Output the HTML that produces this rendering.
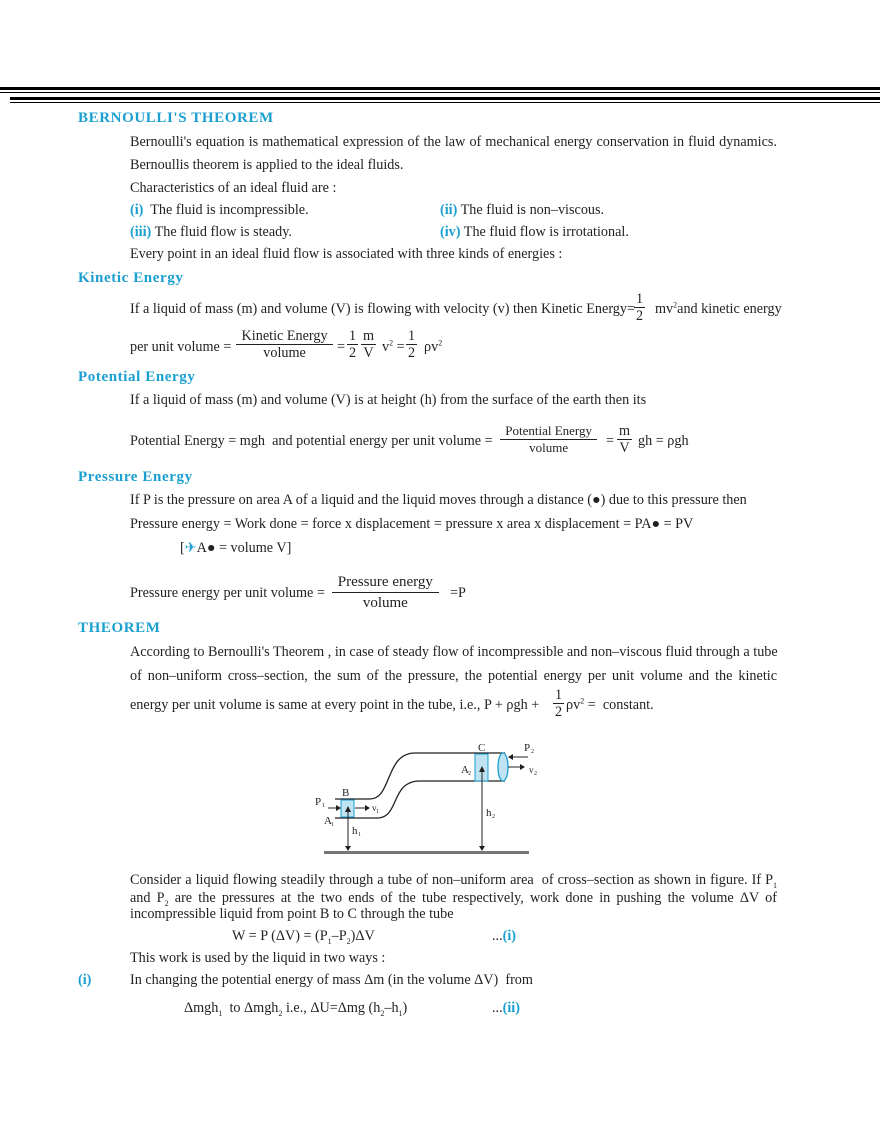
<!DOCTYPE html>
<html><head><meta charset="utf-8"><style>
body{margin:0;width:880px;height:1139px;background:#fff;position:relative;overflow:hidden;font-family:"Liberation Serif",serif;font-size:14.2px;color:#231f20}
.t{position:absolute;white-space:nowrap;line-height:18px}
.j{position:absolute;width:647px;left:130px;line-height:18px;text-align:justify;text-align-last:justify;white-space:nowrap}
.h{position:absolute;left:78px;color:#1a9fd0;font-weight:bold;font-size:15px;letter-spacing:0.6px;line-height:18px}
.b{color:#1a9fd0;font-weight:bold}
.fr{position:absolute;text-align:center;line-height:16px}
.fr .n{border-bottom:1px solid #231f20;padding:0 2px}
sub,sup{font-size:8px;line-height:0}
.bar{position:absolute;background:#000}
</style></head><body>
<div class="bar" style="left:0;top:87px;width:880px;height:3px"></div>
<div class="bar" style="left:0;top:92px;width:880px;height:1px"></div>
<div class="bar" style="left:10px;top:97px;width:870px;height:3px"></div>
<div class="bar" style="left:10px;top:102px;width:870px;height:1px"></div>

<div class="h" style="top:109px">BERNOULLI'S THEOREM</div>
<div class="j" style="top:133px">Bernoulli's equation is mathematical expression of the law of mechanical energy conservation in fluid dynamics.</div>
<div class="t" style="left:130px;top:156px">Bernoullis theorem is applied to the ideal fluids.</div>
<div class="t" style="left:130px;top:179px">Characteristics of an ideal fluid are :</div>
<div class="t" style="left:130px;top:201px"><span class="b">(i)</span>&nbsp; The fluid is incompressible.</div>
<div class="t" style="left:440px;top:201px"><span class="b">(ii)</span> The fluid is non–viscous.</div>
<div class="t" style="left:130px;top:223px"><span class="b">(iii)</span> The fluid flow is steady.</div>
<div class="t" style="left:440px;top:223px"><span class="b">(iv)</span> The fluid flow is irrotational.</div>
<div class="t" style="left:130px;top:245px">Every point in an ideal fluid flow is associated with three kinds of energies :</div>

<div class="h" style="top:269px">Kinetic Energy</div>
<div class="t" style="left:130px;top:300px">If a liquid of mass (m) and volume (V) is flowing with velocity (v) then Kinetic Energy=</div>
<div class="fr" style="left:634px;top:291px"><div class="n">1</div><div>2</div></div>
<div class="t" style="left:655px;top:300px">mv<sup>2</sup>and kinetic energy</div>
<div class="t" style="left:130px;top:338px">per unit volume =</div>
<div class="fr" style="left:236px;top:328px"><div class="n">&nbsp;Kinetic Energy&nbsp;</div><div>volume</div></div>
<div class="t" style="left:337px;top:338px">=</div>
<div class="fr" style="left:347px;top:328px"><div class="n">1</div><div>2</div></div>
<div class="fr" style="left:361px;top:328px"><div class="n">m</div><div>V</div></div>
<div class="t" style="left:382px;top:338px">v<sup>2</sup> =</div>
<div class="fr" style="left:406px;top:328px"><div class="n">1</div><div>2</div></div>
<div class="t" style="left:424px;top:338px">ρv<sup>2</sup></div>

<div class="h" style="top:368px">Potential Energy</div>
<div class="t" style="left:130px;top:391px">If a liquid of mass (m) and volume (V) is at height (h) from the surface of the earth then its</div>
<div class="t" style="left:130px;top:432px">Potential Energy = mgh&nbsp; and potential energy per unit volume =</div>
<div class="fr" style="left:500px;top:423px;font-size:13px"><div class="n">&nbsp;Potential Energy&nbsp;</div><div>volume</div></div>
<div class="t" style="left:606px;top:432px">=</div>
<div class="fr" style="left:617px;top:423px"><div class="n">m</div><div>V</div></div>
<div class="t" style="left:638px;top:432px">gh = ρgh</div>

<div class="h" style="top:468px">Pressure Energy</div>
<div class="t" style="left:130px;top:491px">If P is the pressure on area A of a liquid and the liquid moves through a distance (●) due to this pressure then</div>
<div class="t" style="left:130px;top:515px">Pressure energy = Work done = force x displacement = pressure x area x displacement = PA● = PV</div>
<div class="t" style="left:180px;top:539px">[<span style="color:#1a9fd0">✈</span>A● = volume V]</div>
<div class="t" style="left:130px;top:584px">Pressure energy per unit volume =</div>
<div class="fr" style="left:332px;top:572px;font-size:15px;line-height:20px"><div class="n">&nbsp;Pressure energy&nbsp;</div><div>volume</div></div>
<div class="t" style="left:450px;top:584px">=P</div>

<div class="h" style="top:619px">THEOREM</div>
<div class="j" style="top:643px">According to Bernoulli's Theorem , in case of steady flow of incompressible and non–viscous fluid through a tube</div>
<div class="j" style="top:667px">of non–uniform cross–section, the sum of the pressure, the potential energy per unit volume and the kinetic</div>
<div class="t" style="left:130px;top:696px">energy per unit volume is same at every point in the tube, i.e., P + ρgh +</div>
<div class="fr" style="left:553px;top:687px"><div class="n">1</div><div>2</div></div>
<div class="t" style="left:566px;top:696px">ρv<sup>2</sup> = &nbsp;constant.</div>

<svg style="position:absolute;left:0;top:0" width="880" height="1139">
<g fill="none" stroke="#231f20" stroke-width="1.3">
<path d="M335 799 H370 C392 799 385 753 415 753 H505"/>
<path d="M335 818 H377 C400 818 390 781 420 781 H505"/>
<ellipse cx="503" cy="767" rx="5" ry="14" fill="#bfe3f3" stroke="#1a9fd0"/>
</g>
<rect x="341" y="800" width="13" height="17" fill="#bfe3f3" stroke="#1a9fd0"/>
<rect x="475" y="754" width="13" height="27" fill="#bfe3f3" stroke="#1a9fd0"/>
<rect x="324" y="851" width="205" height="3" fill="#777"/>
<g stroke="#231f20" stroke-width="1">
<line x1="348" y1="808" x2="348" y2="850"/><line x1="482" y1="768" x2="482" y2="850"/>
<line x1="328" y1="808" x2="339" y2="808"/><line x1="355" y1="808" x2="367" y2="808"/>
<line x1="510" y1="757" x2="528" y2="757"/><line x1="508" y1="767" x2="522" y2="767"/>
</g>
<g fill="#231f20">
<path d="M345 812 L348 806 L351 812Z"/><path d="M345 846 L348 851 L351 846Z"/>
<path d="M479 772 L482 766 L485 772Z"/><path d="M479 846 L482 851 L485 846Z"/>
<path d="M336 805 L341 808 L336 811Z"/><path d="M365 805 L370 808 L365 811Z"/>
<path d="M513 754 L508 757 L513 760Z"/><path d="M520 764 L525 767 L520 770Z"/>
</g>
<g font-family="Liberation Serif" font-size="11" fill="#231f20">
<text x="342" y="796">B</text><text x="478" y="751">C</text>
<text x="315" y="805">P</text><text x="322" y="807" font-size="6">1</text>
<text x="372" y="811" font-size="9">v</text><text x="376" y="813" font-size="6">1</text>
<text x="324" y="824">A</text><text x="331" y="826" font-size="6">1</text>
<text x="352" y="834">h</text><text x="358" y="836" font-size="6">1</text>
<text x="461" y="773">A</text><text x="468" y="775" font-size="6">2</text>
<text x="486" y="816">h</text><text x="492" y="818" font-size="6">2</text>
<text x="524" y="751">P</text><text x="531" y="753" font-size="6">2</text>
<text x="529" y="773" font-size="9">v</text><text x="534" y="775" font-size="6">2</text>
</g>
</svg>

<div class="j" style="top:871px">Consider a liquid flowing steadily through a tube of non–uniform area&nbsp; of cross–section as shown in figure. If P<sub>1</sub></div>
<div class="j" style="top:889px">and P<sub>2</sub> are the pressures at the two ends of the tube respectively, work done in pushing the volume ΔV of</div>
<div class="t" style="left:130px;top:905px">incompressible liquid from point B to C through the tube</div>
<div class="t" style="left:232px;top:927px">W = P (ΔV) = (P<sub>1</sub>–P<sub>2</sub>)ΔV</div>
<div class="t" style="left:492px;top:927px">...<span class="b">(i)</span></div>
<div class="t" style="left:130px;top:949px">This work is used by the liquid in two ways :</div>
<div class="t" style="left:78px;top:971px"><span class="b">(i)</span></div>
<div class="t" style="left:130px;top:971px">In changing the potential energy of mass Δm (in the volume ΔV)&nbsp; from</div>
<div class="t" style="left:184px;top:999px">Δmgh<sub>1</sub>&nbsp; to Δmgh<sub>2</sub> i.e., ΔU=Δmg (h<sub>2</sub>–h<sub>1</sub>)</div>
<div class="t" style="left:492px;top:999px">...<span class="b">(ii)</span></div>
</body></html>
